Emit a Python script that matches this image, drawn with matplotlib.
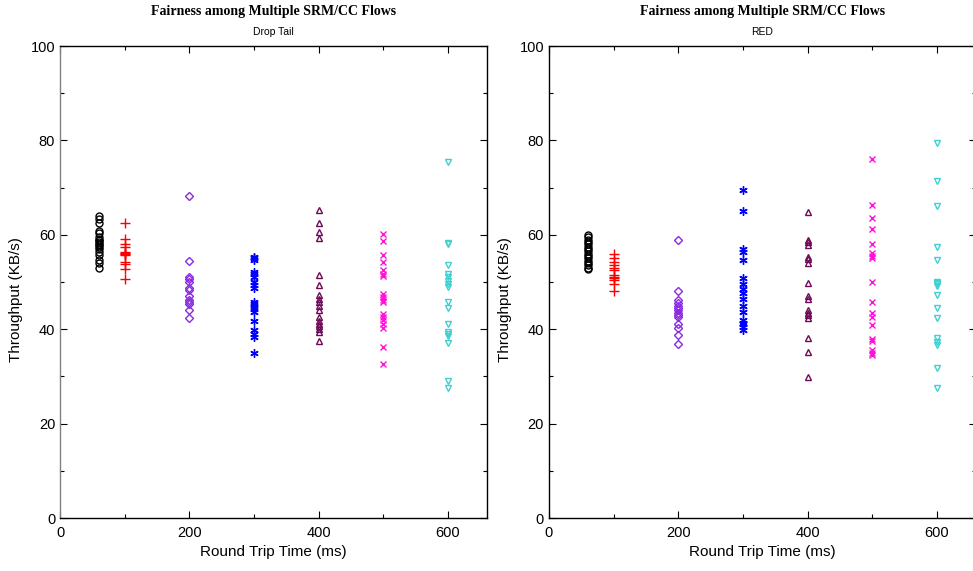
import numpy as np
import matplotlib
matplotlib.use('Agg')
import matplotlib.pyplot as plt
from matplotlib.ticker import MultipleLocator

plt.rcParams['font.family'] = ['Liberation Sans Narrow', 'Liberation Sans', 'DejaVu Sans']

# round trip times (ms) of the seven flow groups
rtts = [60, 100, 200, 300, 400, 500, 600]

# throughput (KB/s) of each flow, Drop Tail gateway
dt_60 = [64.0, 63.3, 62.6, 60.8, 60.3, 59.6, 59.0, 58.8, 58.5, 58.1, 57.8, 57.5,
         56.9, 56.3, 55.7, 54.7, 54.0, 53.0]
dt_100 = [62.4, 59.1, 58.1, 57.5, 56.4, 56.1, 56.0, 55.9, 55.7, 54.2, 53.8, 52.8, 50.6]
dt_200 = [68.2, 54.5, 51.1, 50.6, 50.1, 48.8, 48.4, 47.1, 46.2, 45.8, 45.3, 44.1, 42.3]
dt_300 = [55.4, 55.0, 54.7, 52.2, 51.6, 51.0, 50.0, 49.4, 48.7, 45.8, 45.3, 44.8,
          44.2, 43.7, 41.8, 39.8, 38.9, 38.4, 35.0]
dt_400 = [65.3, 62.4, 60.7, 59.3, 51.5, 49.4, 47.2, 46.5, 45.8, 45.0, 44.1, 42.6,
          41.8, 41.2, 40.7, 40.0, 39.5, 37.5]
dt_500 = [60.2, 58.7, 55.8, 54.3, 52.5, 51.8, 51.2, 47.5, 46.8, 46.2, 45.8, 43.3,
          42.5, 42.0, 41.0, 40.3, 36.3, 32.6]
dt_600 = [75.5, 58.2, 58.0, 53.7, 51.8, 51.0, 50.2, 49.5, 49.0, 45.8, 44.5, 41.0,
          39.5, 39.0, 38.5, 37.0, 29.0, 27.5]

# throughput (KB/s) of each flow, RED gateway
red_60 = [60.0, 59.5, 59.0, 58.5, 58.0, 57.5, 57.0, 56.5, 56.0, 55.5, 55.0, 54.5,
          54.0, 53.5, 53.0, 52.8]
red_100 = [56.0, 55.0, 54.2, 53.5, 53.0, 52.5, 51.5, 51.0, 50.8, 50.5, 49.5, 48.0]
red_200 = [59.0, 48.0, 46.2, 45.5, 45.0, 44.5, 44.0, 43.5, 43.0, 42.6, 41.0, 40.3,
           38.8, 36.8]
red_300 = [69.6, 65.1, 56.9, 56.4, 54.7, 50.8, 49.5, 48.5, 47.6, 46.5, 45.0, 43.7,
           41.9, 41.4, 41.0, 40.5, 39.8]
red_400 = [64.9, 58.9, 58.4, 57.8, 55.4, 54.8, 54.0, 49.7, 47.0, 46.5, 44.1, 43.5,
           43.0, 42.3, 38.1, 35.2, 29.9]
red_500 = [76.1, 66.3, 63.6, 61.2, 58.1, 56.1, 55.5, 55.0, 50.1, 45.7, 43.4, 42.5,
           40.9, 37.9, 37.4, 35.6, 35.0, 34.5]
red_600 = [79.5, 71.3, 66.1, 57.5, 54.7, 50.0, 49.7, 49.5, 49.2, 47.2, 44.4, 42.3,
           38.1, 37.3, 36.7, 31.7, 27.5]

drop_tail = [dt_60, dt_100, dt_200, dt_300, dt_400, dt_500, dt_600]
red = [red_60, red_100, red_200, red_300, red_400, red_500, red_600]

# gnuplot-like point styles per group
styles = [
    dict(marker='o', color='black', hollow=True, ms=5.0),
    dict(marker='+', color='#ff0000', hollow=False, ms=6.5),
    dict(marker='D', color='#8a2be2', hollow=True, ms=3.8),
    dict(marker=(6, 2, 0), color='#0000ff', hollow=False, ms=6.0),
    dict(marker='^', color='#6e0a55', hollow=True, ms=5.0),
    dict(marker='x', color='#ff10d8', hollow=False, ms=4.5),
    dict(marker='v', color='#40d0d0', hollow=True, ms=5.0),
]


def draw_panel(ax, groups, subtitle, left_color='black'):
    for rtt, vals, st in zip(rtts, groups, styles):
        xs = np.full(len(vals), rtt)
        if st['hollow']:
            ax.plot(xs, vals, linestyle='none', marker=st['marker'], ms=st['ms'],
                    mfc='none', mec=st['color'], mew=1.0)
        else:
            ax.plot(xs, vals, linestyle='none', marker=st['marker'], ms=st['ms'],
                    color=st['color'], mew=1.0)
    ax.set_xlim(0, 660)
    ax.set_ylim(0, 100)
    ax.xaxis.set_major_locator(MultipleLocator(200))
    ax.xaxis.set_minor_locator(MultipleLocator(100))
    ax.yaxis.set_major_locator(MultipleLocator(20))
    ax.yaxis.set_minor_locator(MultipleLocator(10))
    ax.tick_params(which='both', direction='in', top=True, right=True,
                   labelsize=10.5, width=0.8)
    ax.tick_params(which='major', length=5)
    ax.tick_params(which='minor', length=3)
    ax.tick_params(axis='x', pad=6)
    for s in ax.spines.values():
        s.set_linewidth(1.0)
    ax.spines['left'].set_color(left_color)
    ax.set_xlabel('Round Trip Time (ms)', fontsize=11, labelpad=3)
    ax.set_ylabel('Throughput (KB/s)', fontsize=11)
    ax.yaxis.set_label_coords(-0.086, 0.462)
    ax.text(0.5, 1.074, 'Fairness among Multiple SRM/CC Flows', transform=ax.transAxes,
            ha='center', va='center', fontsize=10, fontweight='bold',
            family=['Liberation Serif', 'DejaVu Serif'])
    ax.text(0.5, 1.030, subtitle, transform=ax.transAxes, ha='center', va='center',
            fontsize=7.5)


fig = plt.figure(figsize=(9.73, 5.71), dpi=100)
ax1 = fig.add_axes([0.0617, 0.0928, 0.4386, 0.8266])
ax2 = fig.add_axes([0.5642, 0.0928, 0.4386, 0.8266])

draw_panel(ax1, drop_tail, 'Drop Tail', left_color='#808080')
draw_panel(ax2, red, 'RED')

fig.savefig('out.png', dpi=100)
plt.close(fig)
